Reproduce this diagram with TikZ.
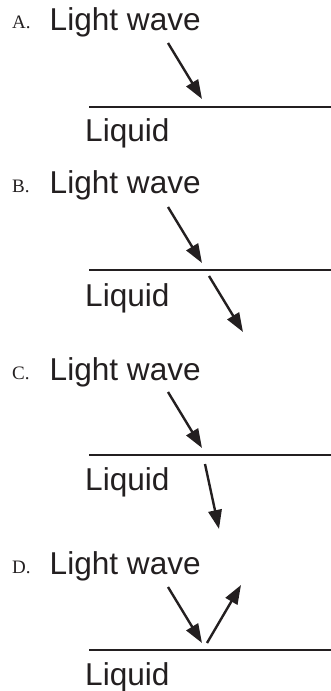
\documentclass[tikz,border=0pt]{standalone}
\usepackage{fontspec}
\setmainfont{Liberation Sans}
\newfontfamily\letterfont{Liberation Serif}
\usetikzlibrary{arrows.meta}
\definecolor{ink}{HTML}{231F20}
\tikzset{
  lbl/.style={anchor=base west, inner sep=0pt, text=ink, font=\fontsize{31.6}{31.6}\selectfont},
  optlbl/.style={anchor=base west, inner sep=0pt, text=ink, font=\letterfont\fontsize{19}{19}\selectfont},
  surface/.style={draw=ink, line width=2.8pt},
  ray/.style={draw=ink, line width=2.4pt, -{Triangle[length=19pt,width=13.5pt]}}
}
\begin{document}
\begin{tikzpicture}[x=1pt,y=-1pt]
\useasboundingbox (0,0) rectangle (331,691);
% Panel A
\node[optlbl] (la) at (12,28.5) {A.};
\node[lbl] (wa) at (49.5,30) {Light wave};
\coordinate (sa1) at (89,107); \coordinate (sa2) at (331,107);
\draw[surface] (sa1) -- (sa2);
\node[lbl] (qa) at (85,141.5) {Liquid};
\coordinate (ia1) at (168,43); \coordinate (ia2) at (202,99);
\draw[ray] (ia1) -- (ia2);
% Panel B
\node[optlbl] (lb) at (12,192) {B.};
\node[lbl] (wb) at (49.5,193.5) {Light wave};
\coordinate (sb1) at (89,270); \coordinate (sb2) at (331,270);
\draw[surface] (sb1) -- (sb2);
\node[lbl] (qb) at (85,306) {Liquid};
\coordinate (ib1) at (168,207); \coordinate (ib2) at (202,263);
\draw[ray] (ib1) -- (ib2);
\coordinate (rb1) at (209,276); \coordinate (rb2) at (243,332);
\draw[ray] (rb1) -- (rb2);
% Panel C
\node[optlbl] (lc) at (12,379) {C.};
\node[lbl] (wc) at (49.5,380) {Light wave};
\coordinate (sc1) at (89,455); \coordinate (sc2) at (331,455);
\draw[surface] (sc1) -- (sc2);
\node[lbl] (qc) at (85,490.5) {Liquid};
\coordinate (ic1) at (168,392); \coordinate (ic2) at (202,448);
\draw[ray] (ic1) -- (ic2);
\coordinate (rc1) at (205,464); \coordinate (rc2) at (219,529);
\draw[ray] (rc1) -- (rc2);
% Panel D
\node[optlbl] (ld) at (12,573) {D.};
\node[lbl] (wd) at (49.5,574) {Light wave};
\coordinate (sd1) at (89,650); \coordinate (sd2) at (331,650);
\draw[surface] (sd1) -- (sd2);
\node[lbl] (qd) at (85,685) {Liquid};
\coordinate (id1) at (168,587); \coordinate (id2) at (202,643);
\draw[ray] (id1) -- (id2);
\coordinate (rd1) at (207,643); \coordinate (rd2) at (241,585);
\draw[ray] (rd1) -- (rd2);
\end{tikzpicture}
\end{document}
